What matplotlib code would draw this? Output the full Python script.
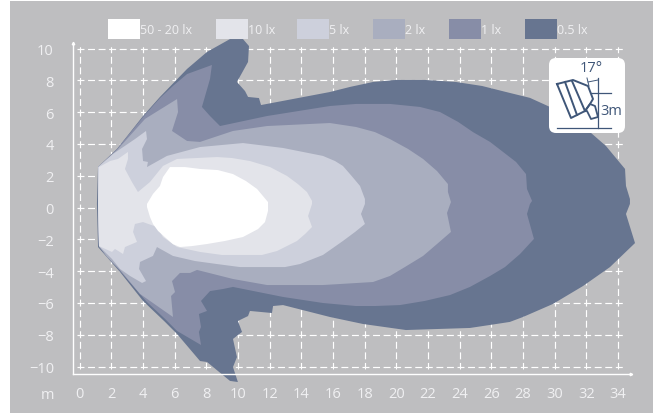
import matplotlib
matplotlib.use("Agg")
import matplotlib.pyplot as plt
from matplotlib.patches import FancyBboxPatch, Rectangle

plt.rcParams['font.family'] = ['Open Sans', 'DejaVu Sans']
plt.rcParams['lines.scale_dashes'] = False

# illuminance contours, metres, outermost first
lx05_x = [1.17, 2.37, 4.01, 5.08, 6.79, 8.05, 9.50, 10.32, 10.7, 10.64, 9.94, 10.45, 10.64, 11.33, 11.46,
          15.81, 17.08, 18.53, 19.98, 21.8, 23.77, 25.41, 26.93, 28.44, 29.7, 30.97, 32.23, 33.24, 34.44, 34.5, 34.75, 34.75, 34.5, 35.07,
          33.49, 31.79, 29.89, 28.0, 27.17, 25.92, 24.65, 22.76, 20.61, 17.9, 15.81, 12.85, 12.22, 12.15, 10.76, 10.64,
          10.0, 10.26, 9.69, 9.94, 9.69, 10.0, 9.5, 8.05, 7.61, 6.16, 5.4, 4.01, 2.56, 1.17, 1.1]
lx05_y = [2.55, 3.69, 5.76, 6.96, 8.72, 9.79, 10.6, 10.6, 10.16, 9.16, 7.9, 7.33, 6.96, 6.89, 6.45,
          7.27, 7.59, 7.9, 8.03, 8.03, 7.9, 7.65, 7.27, 6.9, 6.33, 5.58, 4.75, 3.87, 2.43, 1.36, 0.54, 0.23, -0.4, -2.23,
          -3.74, -4.93, -6.06, -6.88, -7.19, -7.38, -7.57, -7.63, -7.7, -7.32, -6.88, -6.13, -6.19, -6.63, -6.5, -6.82,
          -7.13, -7.82, -8.26, -9.4, -10.03, -10.97, -10.9, -9.71, -9.65, -7.95, -7.19, -5.87, -4.05, -2.48, 0.23]

lx1_x = [8.36, 8.24, 7.73, 8.24, 8.87, 11.84, 15.81, 17.46, 19.6, 21.5, 22.76, 23.9, 24.84, 25.92, 26.74, 27.56, 28.19, 28.25, 28.57,
         28.44, 28.25, 28.69, 27.81, 26.86, 25.92, 24.65, 23.39, 21.8, 20.23, 18.65, 17.46, 15.37, 12.85, 9.69, 9.06, 8.24, 7.67,
         8.05, 7.54, 7.67, 7.54, 7.67, 6.16, 5.4, 4.26, 2.56, 1.23, 1.17, 1.17, 2.37, 4.01, 5.08, 5.9, 6.79]
lx1_y = [8.97, 8.09, 6.33, 5.76, 5.13, 5.76, 6.39, 6.52, 6.52, 6.33, 6.01, 5.39, 4.75, 4.13, 3.5, 2.87, 2.11, 1.17, 0.42,
         0.23, -0.4, -1.97, -2.92, -3.74, -4.3, -4.99, -5.5, -5.87, -6.13, -6.19, -6.19, -6.0, -5.62, -4.99, -5.12, -5.25, -5.87,
         -6.5, -6.69, -7.51, -7.82, -8.64, -7.76, -7.0, -5.94, -3.99, -2.48, 0.23, 2.55, 3.69, 5.7, 6.89, 7.65, 8.4]

lx2_x = [6.16, 6.22, 5.84, 6.79, 7.61, 9.69, 11.84, 15.81, 17.46, 18.65, 19.6, 20.74, 21.69, 22.57, 23.26, 23.26, 23.45, 23.2,
         23.45, 22.57, 21.69, 20.54, 19.6, 18.53, 15.37, 11.84, 9.69, 7.42, 6.98, 6.34, 5.84, 6.03, 5.78, 5.9,
         4.45, 3.82, 2.56, 1.74, 1.23, 1.17, 1.17, 2.37, 4.14]
lx2_y = [6.83, 6.01, 4.82, 4.19, 4.13, 4.82, 5.13, 5.32, 5.07, 4.75, 4.31, 3.69, 3.06, 2.3, 1.48, 0.98, 0.35, -0.34,
         -1.53, -2.29, -3.04, -3.74, -4.3, -4.68, -4.87, -4.87, -4.49, -3.92, -4.11, -4.11, -4.62, -5.31, -5.56, -6.88,
         -5.87, -5.43, -3.92, -3.11, -2.42, 0.23, 2.55, 3.62, 5.58]

lx5_x = [4.2, 4.26, 3.95, 4.01, 4.32, 4.26, 5.52, 7.61, 10.32, 12.85, 15.37, 16.13, 16.63, 17.18, 17.71, 18.02, 18.02, 17.77,
         18.02, 17.4, 16.63, 16.0, 15.37, 13.92, 12.97, 11.84, 10.13, 8.68, 7.29, 5.9, 4.89, 4.64, 3.82, 3.76, 4.2, 3.95, 3.19,
         2.56, 2.05, 1.23, 1.17, 1.17, 2.11, 3.5]
lx5_y = [4.82, 4.31, 3.69, 2.93, 2.87, 2.55, 3.25, 3.81, 4.06, 3.75, 3.25, 2.93, 2.62, 1.99, 1.36, 0.54, 0.23, -0.4,
         -1.03, -1.53, -2.1, -2.54, -2.98, -3.55, -3.74, -3.74, -3.74, -3.55, -3.36, -3.04, -2.48, -3.04, -3.42, -3.86, -4.62, -4.74, -4.3,
         -3.86, -3.23, -2.42, 0.23, 2.55, 3.37, 4.31]

lx10_x = [1.23, 1.93, 2.43, 3.06, 3.06, 2.87, 3.31, 3.69, 4.45, 5.27, 6.16, 8.68, 9.62, 10.76, 12.03, 13.1, 13.79, 14.36, 14.68,
          14.68, 14.43, 14.68, 14.24, 13.73, 12.47, 11.52, 10.32, 9.0, 7.61, 6.16, 5.27, 4.89, 4.01, 3.5, 3.38, 3.63, 2.87,
          2.75, 2.24, 2.05, 1.23, 1.17]
lx10_y = [2.55, 2.93, 3.06, 3.5, 3.06, 2.43, 1.61, 0.98, 1.61, 2.62, 3.06, 3.18, 3.12, 2.93, 2.55, 1.99, 1.48, 0.98, 0.42,
          0.23, -0.53, -1.22, -1.66, -2.1, -2.73, -2.98, -2.98, -2.98, -2.79, -2.48, -1.85, -1.22, -0.91, -1.03, -1.53, -2.16, -2.48,
          -2.92, -2.6, -2.79, -2.42, 0.23]

lx20_x = [5.71, 6.66, 7.61, 8.74, 9.69, 10.51, 11.21, 11.9, 11.9, 11.71, 11.27, 10.32, 9.18, 8.05, 7.1, 6.34, 5.9, 5.52, 4.96, 4.64, 4.45, 4.26, 4.26, 4.64, 5.08, 5.27]
lx20_y = [2.55, 2.55, 2.43, 2.36, 2.11, 1.67, 1.17, 0.35, -0.21, -0.91, -1.35, -1.85, -2.1, -2.29, -2.42, -2.48, -2.3, -1.97, -1.47, -1.03, -0.59, 0.04, 0.23, 0.86, 1.36, 1.92]

legend_labels = ['50 - 20 lx', '10 lx', '5 lx', '2 lx', '1 lx', '0.5 lx']
legend_colors = ['#ffffff', '#e3e4ea', '#cdd0dc', '#a9aebf', '#878da7', '#677590']
legend_left = [108, 216, 297, 373, 449, 525]

x_ticks = list(range(0, 36, 2))
y_ticks = list(range(-10, 12, 2))

GREY = '#bebec0'
TEXT = '#f0f0f2'
ICON = '#3f5678'

fig = plt.figure(figsize=(6.53, 4.14), dpi=100, facecolor='white')

# grey panel leaves a white strip at the left and top
fig.add_artist(Rectangle((10 / 653, 0), 643 / 653, 412 / 414, transform=fig.transFigure,
                         facecolor=GREY, edgecolor='none', zorder=-5))

ax = fig.add_axes([0, 0, 1, 1], facecolor='none')
ax.set_xlim(-79.5 / 15.84, (653 - 79.5) / 15.84)
ax.set_ylim((208.6 - 414) / 15.9, 208.6 / 15.9)

# dashed grid
ax.hlines(y_ticks, -0.15, 34.3, color='white', lw=0.85, linestyle=(0, (5, 2.6)), zorder=1)
ax.vlines(x_ticks, -10.1, 10.1, color='white', lw=0.85, linestyle=(1, (5, 2.6)), zorder=1)
for yv in y_ticks:
    ax.plot(x_ticks, [yv] * len(x_ticks), ls='none', marker='+', ms=3.5, mew=0.7, color='white', zorder=1)

contours = [(lx05_x, lx05_y), (lx1_x, lx1_y), (lx2_x, lx2_y), (lx5_x, lx5_y), (lx10_x, lx10_y), (lx20_x, lx20_y)]
for (cx, cy), col in zip(contours, legend_colors[::-1]):
    ax.fill(cx, cy, color=col, lw=0, zorder=2)

# axis lines sit just outside the grid
for side in ['top', 'right']:
    ax.spines[side].set_visible(False)
ax.spines['left'].set_position(('data', -0.39))
ax.spines['left'].set_bounds(-10.45, 10.3)
ax.spines['bottom'].set_position(('data', -10.45))
ax.spines['bottom'].set_bounds(-0.39, 34.8)
for side in ['left', 'bottom']:
    ax.spines[side].set_color('white')
    ax.spines[side].set_linewidth(1.0)
ax.plot([-0.39], [10.35], marker='^', ms=1.8, color='white', clip_on=False)
ax.plot([34.8], [-10.45], marker='>', ms=1.8, color='white', clip_on=False)

ax.set_xticks(x_ticks)
ax.set_yticks(y_ticks)
ax.tick_params(axis='both', length=0, labelsize=10.5, labelcolor=TEXT)
ax.tick_params(axis='x', pad=9)
ax.tick_params(axis='y', pad=14)

# overlay in pixel units for the legend and lamp inset
ov = fig.add_axes([0, 0, 1, 1], facecolor='none', zorder=5)
ov.set_xlim(0, 653)
ov.set_ylim(414, 0)
ov.axis('off')

ov.text(47, 396, 'm', color=TEXT, fontsize=10.5, ha='center', va='center')

for left, col, lab in zip(legend_left, legend_colors, legend_labels):
    ov.add_patch(Rectangle((left, 20), 32, 20, facecolor=col, edgecolor='none'))
    ov.text(left + 32, 30, lab, color=TEXT, fontsize=9, ha='left', va='center')

ov.add_patch(FancyBboxPatch((555, 65), 64, 63, boxstyle='round,pad=6,rounding_size=7',
                            facecolor='white', edgecolor='none'))
ov.plot([557, 573, 588, 593, 590, 585, 571, 557], [85, 81, 87, 100, 105, 112, 119, 85], color=ICON, lw=1.4)
ov.plot([565, 577], [83, 116], color=ICON, lw=1.4)
ov.plot([572, 585], [82, 112], color=ICON, lw=1.4)
ov.plot([585, 590, 595, 598, 591, 587, 585], [112, 105, 107, 118, 120, 112, 112], color=ICON, lw=1.3)
ov.plot([598, 598], [79, 129], color=ICON, lw=0.9)
ov.plot([557, 611], [129, 129], color=ICON, lw=0.9)
ov.plot([591, 611], [94, 94], color=ICON, lw=0.9)
ov.plot([587, 589], [79, 87], color=ICON, lw=0.7)
ov.plot([588, 593, 598], [83, 82, 81], color=ICON, lw=0.7)
ov.text(591, 69, '17°', color=ICON, fontsize=10.5, ha='center', va='center')
ov.text(611, 112, '3m', color=ICON, fontsize=10.5, ha='center', va='center')

fig.savefig('out.png', dpi=100)
